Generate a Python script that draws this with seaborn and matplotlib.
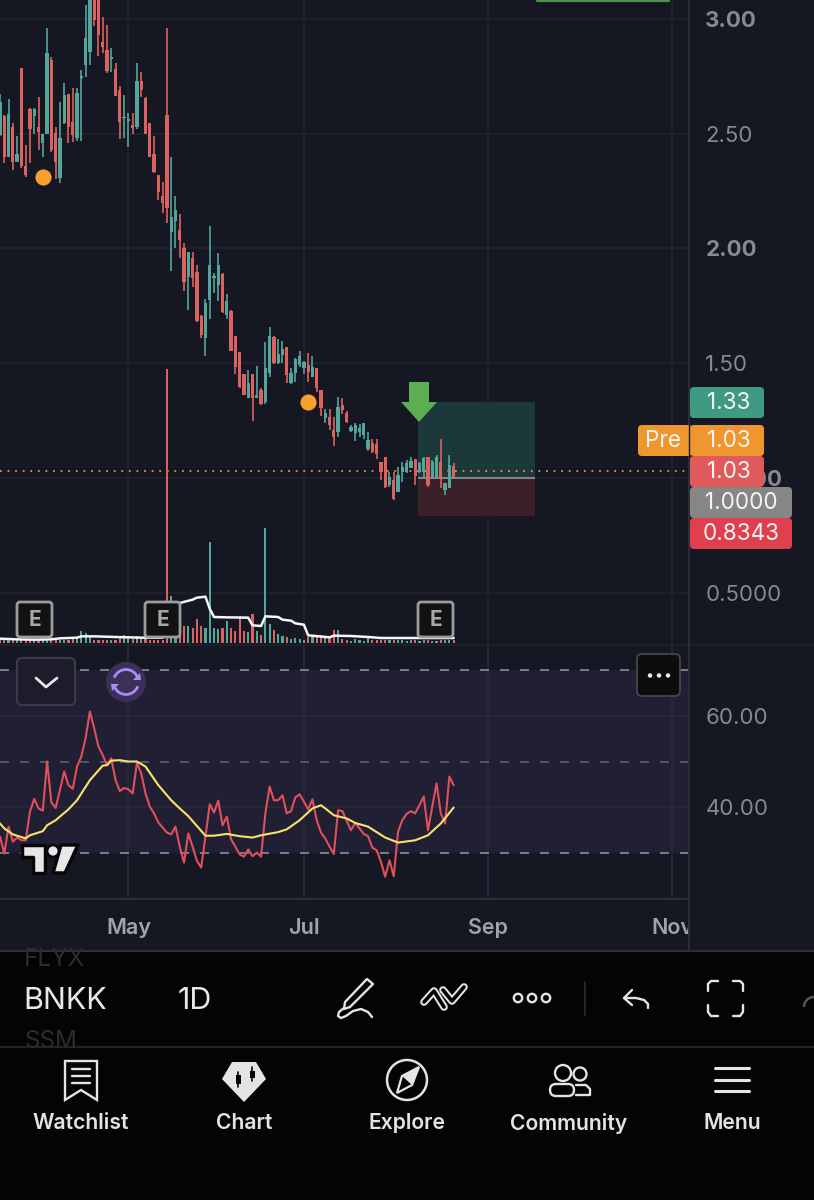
import matplotlib
matplotlib.use("Agg")
import matplotlib.pyplot as plt
from matplotlib.patches import Rectangle, FancyBboxPatch, Polygon, Circle, Arc
import pandas as pd
import seaborn as sns

# Candles, one per trading day
candle_dir = list(
    "GRGRGRRRGR" "GGRRGGRRGG" "GGRRRRGRRG" "GRGRRRRRRR" "GGRRGRRRGG"
    "GGRGRRRRGR" "GRGGRGGRGG" "GGRGRRGRRG" "RRGGGGGRRR" "RGRGGGGRGG" "RGGRGGR"
)
highs = [
    2.671, 2.581, 2.649, 2.545, 2.490, 2.787, 2.450, 2.610, 2.610, 2.658,
    2.498, 2.959, 2.835, 2.530, 2.639, 2.719, 2.673, 2.697, 2.697, 2.777,
    3.060, 3.120, 3.120, 3.110, 3.009, 2.973, 2.871, 2.806, 2.707, 2.668,
    2.588, 2.588, 2.806, 2.767, 2.658, 2.545, 2.490, 2.320, 2.291, 2.959,
    2.400, 2.230, 2.148, 2.025, 1.986, 1.986, 1.928, 1.710, 1.778, 2.099,
    1.892, 1.982, 1.892, 1.800, 1.732, 1.620, 1.550, 1.452, 1.471, 1.452,
    1.489, 1.391, 1.591, 1.659, 1.620, 1.604, 1.598, 1.569, 1.478, 1.521,
    1.553, 1.511, 1.546, 1.532, 1.481, 1.382, 1.301, 1.301, 1.267, 1.354,
    1.347, 1.293, 1.231, 1.238, 1.235, 1.241, 1.202, 1.170, 1.170, 1.071,
    1.090, 1.025, 1.028, 1.050, 1.068, 1.079, 1.090, 1.081, 1.071, 1.090,
    1.090, 1.079, 1.100, 1.169, 0.977, 1.100, 1.064,
]
body_top = [
    2.639, 2.577, 2.584, 2.530, 2.411, 2.787, 2.360, 2.607, 2.607, 2.530,
    2.498, 2.850, 2.821, 2.501, 2.479, 2.668, 2.671, 2.552, 2.678, 2.752,
    2.918, 3.090, 3.100, 3.090, 2.900, 2.864, 2.835, 2.780, 2.690, 2.574,
    2.562, 2.537, 2.729, 2.729, 2.657, 2.545, 2.411, 2.320, 2.230, 2.581,
    2.138, 2.167, 2.080, 2.000, 1.986, 1.957, 1.899, 1.707, 1.761, 1.928,
    1.880, 1.928, 1.889, 1.771, 1.729, 1.620, 1.550, 1.452, 1.413, 1.452,
    1.362, 1.383, 1.478, 1.619, 1.616, 1.540, 1.561, 1.569, 1.459, 1.517,
    1.532, 1.507, 1.492, 1.485, 1.481, 1.382, 1.282, 1.267, 1.209, 1.311,
    1.318, 1.282, 1.224, 1.231, 1.217, 1.238, 1.166, 1.154, 1.148, 1.071,
    1.090, 1.006, 0.991, 1.013, 1.050, 1.064, 1.076, 1.081, 1.064, 1.087,
    1.090, 1.071, 1.093, 1.071, 0.977, 1.057, 1.052,
]
body_bottom = [
    2.494, 2.400, 2.400, 2.378, 2.375, 2.360, 2.320, 2.519, 2.577, 2.508,
    2.458, 2.498, 2.429, 2.375, 2.305, 2.548, 2.527, 2.494, 2.479, 2.744,
    2.799, 2.857, 2.995, 2.930, 2.879, 2.773, 2.824, 2.665, 2.549, 2.567,
    2.556, 2.523, 2.530, 2.690, 2.498, 2.397, 2.334, 2.247, 2.196, 2.175,
    2.070, 2.119, 2.037, 1.855, 1.877, 1.870, 1.684, 1.623, 1.608, 1.776,
    1.870, 1.841, 1.725, 1.710, 1.553, 1.485, 1.398, 1.362, 1.350, 1.347,
    1.350, 1.322, 1.333, 1.456, 1.500, 1.500, 1.536, 1.449, 1.413, 1.456,
    1.492, 1.478, 1.463, 1.442, 1.391, 1.304, 1.260, 1.231, 1.180, 1.202,
    1.296, 1.246, 1.205, 1.195, 1.202, 1.187, 1.125, 1.115, 1.103, 1.028,
    0.962, 0.970, 0.907, 0.941, 1.028, 1.028, 1.042, 1.009, 1.028, 1.028,
    0.970, 1.006, 1.006, 1.006, 0.948, 0.955, 1.006,
]
lows = [
    2.490, 2.370, 2.400, 2.341, 2.375, 2.349, 2.310, 2.370, 2.498, 2.429,
    2.400, 2.498, 2.418, 2.302, 2.286, 2.542, 2.458, 2.465, 2.469, 2.469,
    2.748, 2.799, 2.969, 2.840, 2.850, 2.763, 2.770, 2.665, 2.475, 2.479,
    2.440, 2.498, 2.519, 2.658, 2.498, 2.397, 2.330, 2.211, 2.153, 2.112,
    1.902, 2.000, 1.960, 1.815, 1.732, 1.834, 1.681, 1.611, 1.532, 1.691,
    1.807, 1.773, 1.720, 1.691, 1.553, 1.452, 1.391, 1.362, 1.350, 1.250,
    1.347, 1.318, 1.321, 1.442, 1.497, 1.497, 1.500, 1.413, 1.410, 1.418,
    1.485, 1.453, 1.420, 1.442, 1.373, 1.272, 1.238, 1.209, 1.141, 1.180,
    1.279, 1.241, 1.202, 1.161, 1.180, 1.170, 1.119, 1.110, 1.083, 0.991,
    0.955, 0.962, 0.904, 0.941, 0.984, 1.023, 1.042, 0.970, 1.020, 0.999,
    0.962, 1.003, 1.003, 0.955, 0.926, 0.955, 1.006,
]

# Volume bars and their average (arbitrary units)
volume = [
    8, 8, 8, 8, 8, 8, 8, 8, 8, 8,
    8, 8, 9, 8, 10, 10, 9, 12, 14, 35,
    30, 18, 10, 10, 9, 9, 8, 10, 14, 25,
    22, 12, 22, 12, 12, 10, 10, 10, 10, 822,
    142, 20, 25, 52, 50, 46, 71, 50, 46, 303,
    45, 41, 45, 67, 46, 36, 80, 35, 33, 88,
    35, 23, 346, 56, 38, 26, 20, 18, 13, 15,
    13, 10, 18, 18, 25, 23, 18, 18, 40, 40,
    13, 10, 6, 13, 10, 6, 16, 10, 10, 8,
    8, 8, 8, 8, 8, 7, 8, 8, 7, 8,
    8, 7, 6, 8, 8, 8, 10,
]
vol_ma_days = [0, 4, 8, 12, 14, 18, 19, 22, 27, 33, 38, 39, 42, 45, 46, 48, 49, 50, 53, 58,
               59, 61, 62, 65, 66, 68, 69, 71, 72, 77, 78, 82, 86, 89, 98, 106]
vol_ma = [13, 11, 10, 11, 14, 16, 20, 20, 18, 16, 16, 110, 120, 130, 136, 139, 103, 78, 77, 76,
          53, 51, 80, 78, 70, 67, 59, 55, 23, 17, 22, 21, 18, 15, 15, 15]

# RSI pane
rsi = [
    33.5, 29.8, 35.7, 32.4, 33.3, 32.7, 32.7, 39.0, 41.8, 39.7,
    39.2, 50.0, 41.0, 39.8, 43.7, 47.8, 44.8, 44.0, 48.9, 51.1,
    55.1, 61.0, 57.3, 53.3, 51.4, 49.2, 50.7, 45.9, 43.5, 44.2,
    43.9, 43.0, 49.7, 47.4, 43.0, 40.1, 38.6, 36.6, 35.5, 34.4,
    34.0, 35.7, 31.3, 27.8, 34.2, 31.3, 28.2, 26.7, 33.5, 40.6,
    38.8, 41.4, 36.0, 37.9, 32.9, 31.3, 29.6, 29.1, 30.7, 29.2,
    30.0, 29.1, 38.6, 44.5, 41.5, 41.5, 42.6, 38.6, 39.1, 42.1,
    42.8, 41.2, 39.5, 41.7, 37.1, 34.4, 33.1, 31.3, 29.7, 39.3,
    39.1, 37.0, 34.9, 36.5, 35.3, 34.1, 33.6, 31.1, 30.5, 28.0,
    24.7, 28.3, 24.8, 34.6, 37.1, 38.5, 39.1, 38.6, 40.4, 42.3,
    34.9, 40.1, 45.2, 38.6, 36.4, 46.7, 44.8,
]
rsi_ma_days = [0, 1, 3, 6, 7, 10, 11, 13, 16, 18, 21, 24, 25, 26, 28, 30, 32, 34, 37, 40, 42, 44,
               48, 50, 53, 56, 59, 61, 65, 67, 70, 73, 75, 76, 78, 81, 83, 86, 90, 93, 97, 100, 103, 106]
rsi_ma = [36.4, 35.3, 34.0, 33.1, 33.8, 34.7, 36.0, 37.1, 39.5, 41.5, 45.9, 49.1, 49.2, 50.2, 50.3,
          50.0, 50.0, 48.9, 44.8, 41.5, 39.7, 38.0, 33.7, 33.7, 34.1, 33.6, 33.3, 33.8, 34.5, 35.1,
          37.1, 39.7, 40.4, 39.7, 38.2, 37.5, 36.5, 35.7, 33.3, 32.2, 32.7, 33.8, 36.4, 39.9]

# Axis labels and price tags
price_ticks = [0.5, 1.0, 1.5, 2.0, 2.5, 3.0]
price_tick_labels = ["0.5000", "1.0000", "1.50", "2.00", "2.50", "3.00"]
bold_price_ticks = ["1.0000", "2.00", "3.00"]
rsi_ticks = [40, 60]
rsi_tick_labels = ["40.00", "60.00"]
month_days = [30, 71, 114, 157]
month_labels = ["May", "Jul", "Sep", "Nov"]
dot_days = [10, 72]
dot_prices = [2.311, 1.331]
last_price = 1.03
position_start, position_end = 97.7, 125
target_price, entry_price, stop_price = 1.33, 1.0, 0.8343
tabs = ["Watchlist", "Chart", "Explore", "Community", "Menu"]

BG = "#151823"
GRID = "#21242f"
UP = "#54a69a"
DOWN = "#dc625f"
AXIS_TEXT = "#878a93"
FONT = "Inter"

sns.set_theme(style="dark", rc={"axes.facecolor": BG, "figure.facecolor": BG})
plt.rcParams["font.family"] = [FONT, "DejaVu Sans"]

W, H = 814, 1200
fig = plt.figure(figsize=(W / 100, H / 100), dpi=100)


def pane(left, top, right, bottom):
    return fig.add_axes([left / W, 1 - bottom / H, (right - left) / W, (bottom - top) / H])


df = pd.DataFrame({
    "day": range(len(highs)), "dir": candle_dir, "high": highs, "low": lows,
    "top": body_top, "bottom": body_bottom, "volume": volume, "rsi": rsi,
})
df["color"] = df["dir"].map({"G": UP, "R": DOWN})

# -------------------------
# PRICE PANE
# -------------------------
ax = pane(0, 0, 688, 645)
ax.vlines(df["day"], df["low"], df["high"], color=df["color"], lw=1.2, zorder=3)
ax.bar(df["day"], df["top"] - df["bottom"], bottom=df["bottom"], width=0.76, color=df["color"], lw=0, zorder=3)
ax.add_patch(Rectangle((position_start, entry_price), position_end - position_start, target_price - entry_price,
                       fc="#1b383b", lw=0, zorder=1))
ax.add_patch(Rectangle((position_start, stop_price), position_end - position_start, entry_price - stop_price,
                       fc="#3b2029", lw=0, zorder=1))
ax.hlines(entry_price, position_start, position_end, color="#8b9094", lw=1.3, zorder=2)
ax.axhline(last_price, color="#e8973a", lw=1.3, ls=(0, (1, 3.2)), zorder=2)
sns.scatterplot(x=dot_days, y=dot_prices, ax=ax, color="#f5a02f", s=135, linewidth=0, zorder=4)
ax.set_xlim(0, 160.75)
ax.set_ylim(0.273, 3.082)
ax.set_xticks(month_days)
ax.set_xticklabels([])
ax.yaxis.tick_right()
ax.set_yticks(price_ticks)
ax.set_yticklabels(price_tick_labels)
ax.tick_params(axis="y", length=0, pad=12.5, labelsize=16, labelcolor=AXIS_TEXT)
ax.tick_params(axis="x", length=0)
for lab in ax.get_yticklabels():
    if lab.get_text() in bold_price_ticks:
        lab.set_fontweight("bold")
ax.grid(True, color=GRID, lw=1.2)
ax.set_axisbelow(True)
sns.despine(ax=ax, left=True, top=True, right=True, bottom=True)

# -------------------------
# VOLUME OVERLAY
# -------------------------
vax = pane(0, 0, 688, 645)
vax.patch.set_alpha(0)
vax.bar(df["day"], df["volume"], width=0.5, color=df["color"], lw=0)
sns.lineplot(x=vol_ma_days, y=vol_ma, ax=vax, color="#f5f5f5", lw=1.8, estimator=None)
vax.set_xlim(0, 160.75)
vax.set_ylim(-6, 1929)
vax.set_xlabel("")
vax.set_ylabel("")
vax.set_xticks([])
vax.set_yticks([])
sns.despine(ax=vax, left=True, top=True, right=True, bottom=True)

# -------------------------
# RSI PANE
# -------------------------
rax = pane(0, 645, 688, 899)
rax.axhspan(30, 70, fc="#211f33", lw=0, zorder=0)
rax.axhline(70, color="#8d8d96", lw=1.2, ls=(0, (5.4, 6.6)), zorder=1)
rax.axhline(50, color="#5f5f6b", lw=1.2, ls=(0, (5.4, 6.6)), zorder=1)
rax.axhline(30, color="#8d8d96", lw=1.2, ls=(0, (5.4, 6.6)), zorder=1)
sns.lineplot(data=df, x="day", y="rsi", ax=rax, color="#e0505c", lw=1.5, estimator=None, zorder=3)
sns.lineplot(x=rsi_ma_days, y=rsi_ma, ax=rax, color="#f7e36c", lw=1.5, estimator=None, zorder=4)
rax.set_xlim(0, 160.75)
rax.set_ylim(19.8, 75.6)
rax.set_xlabel("")
rax.set_ylabel("")
rax.yaxis.tick_right()
rax.set_yticks(rsi_ticks)
rax.set_yticklabels(rsi_tick_labels)
rax.set_xticks(month_days)
rax.set_xticklabels(month_labels)
rax.tick_params(axis="y", length=0, pad=12.5, labelsize=16, labelcolor=AXIS_TEXT)
rax.tick_params(axis="x", length=0, pad=13.5, labelsize=15.5, labelcolor="#a0a3ab")
for lab in rax.get_xticklabels():
    lab.set_fontweight("semibold")
rax.grid(True, color="#2a2a3c", lw=1.1)
rax.set_axisbelow(True)
sns.despine(ax=rax, left=True, top=True, right=True, bottom=True)

# -------------------------
# APP CHROME, in pixels
# -------------------------
ui = fig.add_axes([0, 0, 1, 1], zorder=10)
ui.set_xlim(0, W)
ui.set_ylim(H, 0)
ui.axis("off")


def line(xs, ys, color="#e4e4e4", lw=1.7, z=5):
    ui.plot(xs, ys, color=color, lw=lw, solid_capstyle="round", solid_joinstyle="round", zorder=z)


def box(x0, y0, x1, y1, fc, ec="none", lw=0, r=4, z=4):
    ui.add_patch(FancyBboxPatch((x0, y0), x1 - x0, y1 - y0, boxstyle=f"round,pad=0,rounding_size={r}",
                                fc=fc, ec=ec, lw=lw, zorder=z))


def tag(x0, y0, x1, y1, fc, text, tx):
    box(x0, y0, x1, y1, fc)
    ui.text(tx, (y0 + y1) / 2 + 0.5, text, color="#f4f4f4", fontsize=16.2, ha="center", va="center", zorder=6)


# pane separators and axis line
ui.plot([0, W], [645, 645], color="#1f222c", lw=1.2, zorder=1)
ui.plot([0, 688], [899, 899], color="#2c2f3a", lw=1.4, zorder=1)
ui.plot([688.5, 688.5], [0, 950], color="#2c2f3a", lw=1.4, zorder=2)
ui.add_patch(Rectangle((689.5, 905), 125, 45, fc=BG, lw=0, zorder=2))
ui.plot([537, 669], [0.5, 0.5], color="#4f8f4f", lw=1.6, zorder=2)

# entry arrow
ui.add_patch(Polygon([(409, 382), (429, 382), (429, 402), (437, 402), (419, 422), (401, 402), (409, 402)],
                     fc="#5cae52", lw=0, zorder=4))

# price tags
tag(690, 387, 764, 418, "#3f9a82", "1.33", 729)
tag(638, 425, 692, 456, "#f0962f", "Pre", 663)
tag(690, 425, 764, 456, "#f0962f", "1.03", 729)
tag(690, 456, 764, 487, "#e05a5c", "1.03", 729)
tag(690, 487, 792, 518, "#868686", "1.0000", 741)
tag(690, 518, 792, 549, "#e0404e", "0.8343", 741)
ui.plot([688.5, 688.5], [425, 456], color="#151823", lw=1.0, zorder=5)

# earnings flags
for x0 in [17, 145, 418]:
    box(x0, 602, x0 + 35, 637, "#121214", "#9c9c9c", 2.0, r=3)
    ui.text(x0 + 17.5, 620, "E", color="#a8a8a8", fontsize=15, fontweight="bold", ha="center", va="center", zorder=6)

# collapse button, sync badge, menu button
box(17, 658, 75, 705, "#1c1c2a", "#3b3c44", 1.5, r=5)
line([36, 46, 57], [678, 687, 678], "#e6e6ea", 2)
ui.add_patch(Circle((126, 682), 20, fc="#3a3058", lw=0, zorder=4))
ui.add_patch(Arc((126, 682), 25, 25, theta1=200, theta2=340, color="#a88cf5", lw=2, zorder=5))
ui.add_patch(Arc((126, 682), 25, 25, theta1=20, theta2=160, color="#a88cf5", lw=2, zorder=5))
ui.add_patch(Polygon([(133, 680), (141, 680), (140, 673)], fc="#a88cf5", lw=0, zorder=5))
ui.add_patch(Polygon([(111, 684), (119, 684), (112, 691)], fc="#a88cf5", lw=0, zorder=5))
box(637, 654, 680, 696, "#0d0d10", "#46474d", 1.3, r=5)
for x in [650, 659, 668]:
    ui.add_patch(Circle((x, 675.5), 2.2, fc="#f0f0f0", lw=0, zorder=5))

# logo
logo_t = [(22, 845), (45, 845), (45, 873), (33, 873), (33, 857), (22, 857)]
logo_7 = [(61, 845), (78, 845), (65, 873), (53, 873)]
for poly in [logo_t, logo_7]:
    ui.add_patch(Polygon(poly, fc="#e8e8e8", ec="#08080a", lw=2.5, zorder=4, joinstyle="round"))
ui.add_patch(Circle((53, 851), 6, fc="#e8e8e8", ec="#08080a", lw=2, zorder=4))

# bottom bar
ui.add_patch(Rectangle((0, 950), W, 250, fc="#040404", lw=0, zorder=3))
ui.plot([0, W], [950.5, 950.5], color="#3a3a3e", lw=1.2, zorder=4)
ui.plot([0, W], [1046.5, 1046.5], color="#2a2a2c", lw=1.2, zorder=6)
flyx = ui.text(24, 960, "FLYX", color="#2c2c2c", fontsize=17.5, va="center", zorder=4)
flyx.set_clip_path(Rectangle((0, 951), W, 96, transform=ui.transData))
ssm = ui.text(24, 1041, "SSM", color="#2c2c2c", fontsize=17.5, va="center", zorder=4)
ssm.set_clip_path(Rectangle((0, 951), W, 95, transform=ui.transData))
ui.text(23, 1001, "BNKK", color="#e8e8e8", fontsize=22, va="center", zorder=5)
ui.text(178, 1001, "1D", color="#e8e8e8", fontsize=22, va="center", zorder=5)

# toolbar icons
ui.add_patch(Polygon([(367, 979), (373, 984), (350, 1007), (344, 1009), (345, 1002)], fc="none", ec="#e4e4e4", lw=1.7, zorder=5, joinstyle="round"))
line([344, 339, 338, 341, 346, 353, 361, 368, 372], [1008, 1012, 1016, 1018, 1016, 1011, 1009, 1012, 1017])
for xs, ys in [([424, 434, 444], [1002, 991, 1007]), ([443, 452, 464], [990, 1001, 987])]:
    line(xs, ys, "#e4e4e4", 5.5)
    line(xs, ys, "#040404", 2.6, z=6)
for x in [518, 532, 546]:
    ui.add_patch(Circle((x, 998), 4.2, fc="none", ec="#e4e4e4", lw=1.7, zorder=5))
line([584.5, 584.5], [982, 1015], "#2e2e30", 1.2)
line([632, 624, 632], [990, 998, 1005], "#e4e4e4", 1.7)
line([624, 636, 644, 648, 648], [998, 998, 1000, 1004, 1008], "#e4e4e4", 1.7)
line([718, 711, 708, 708], [981, 981, 984, 991])
line([733, 740, 743, 743], [981, 981, 984, 991])
line([708, 708, 711, 718], [1005, 1012, 1016, 1016])
line([743, 743, 740, 733], [1005, 1012, 1016, 1016])
ui.add_patch(Arc((814, 1007), 20, 20, theta1=180, theta2=270, color="#5a5a5a", lw=1.7, zorder=5))

# tab bar icons
ui.add_patch(Polygon([(65, 1061), (97, 1061), (97, 1100), (81, 1090), (65, 1100)], fc="none", ec="#e4e4e4", lw=1.7, zorder=5))
for y in [1069, 1076, 1083]:
    line([72, 90], [y, y], "#e4e4e4", 1.7)
ui.add_patch(Polygon([(232, 1062), (256, 1062), (266, 1079), (244, 1102), (222, 1079)], fc="#e4e4e4", lw=0, zorder=5, joinstyle="round"))
for x, y0, y1, b0, b1 in [(238, 1072, 1087, 1075, 1084), (252, 1067, 1081, 1071, 1078)]:
    line([x, x], [y0, y1], "#040404", 1.2, z=6)
    ui.add_patch(Rectangle((x - 2.5, b0), 5, b1 - b0, fc="#040404", lw=0, zorder=6))
ui.add_patch(Circle((407, 1080), 20, fc="none", ec="#e4e4e4", lw=1.8, zorder=5))
ui.add_patch(Polygon([(419, 1067), (412, 1085), (397, 1093), (402, 1076)], fc="none", ec="#e4e4e4", lw=1.6, zorder=5))
ui.add_patch(Polygon([(419, 1067), (412, 1085), (402, 1076)], fc="#e4e4e4", lw=0, zorder=5))
ui.add_patch(Circle((563, 1073), 8, fc="none", ec="#e4e4e4", lw=1.7, zorder=5))
ui.add_patch(Circle((580, 1074), 6.5, fc="none", ec="#e4e4e4", lw=1.7, zorder=5))
box(550, 1084, 574, 1096, "none", "#e4e4e4", 1.7, r=6)
line([576, 586, 590, 590, 576], [1085, 1085, 1089, 1095, 1095])
for y in [1068, 1080, 1091]:
    line([715, 749], [y, y], "#e4e4e4", 2.2)

for x, label in zip([81, 244, 407, 569, 732], tabs):
    ui.text(x, 1123, label, color="#e4e4e4", fontsize=15.2, fontweight="semibold", ha="center", va="center", zorder=5)

plt.savefig("out.png", dpi=100, facecolor=BG)
